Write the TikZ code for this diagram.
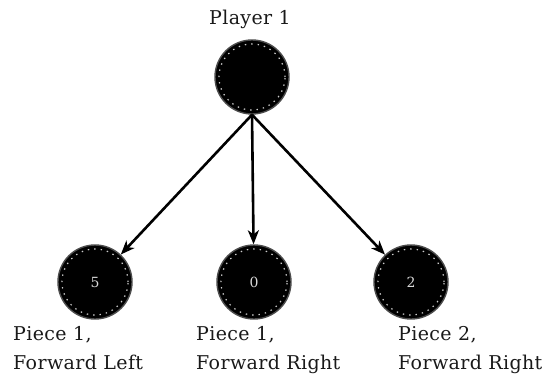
\documentclass[tikz,border=0pt]{standalone}
\usepackage{fontspec}
\setmainfont{DejaVu Serif}[LetterSpace=2]
\usetikzlibrary{arrows.meta}
\tikzset{
  statenode/.style={circle, fill=black, draw=black!70, line width=1.4pt, minimum size=74pt, inner sep=0pt,
    text=white!85!black, font=\fontsize{14}{15}\selectfont,
    path picture={\draw[white!80!black, line width=1.2pt, dash pattern=on 1.4pt off 5pt] (path picture bounding box.center) circle (33pt);}},
  edge/.style={-{Stealth[length=14pt,width=11pt,inset=4pt]}, line width=2.6pt, black},
  lbl/.style={anchor=north west, inner sep=0pt, align=left, font=\fontsize{19}{29}\selectfont, text=black!90},
}
\begin{document}
\begin{tikzpicture}[x=1pt,y=-1pt]
\useasboundingbox (0,0) rectangle (556,379);
\node[statenode] (top) at (252,77) {};
\node[statenode] (b1) at (95,282) {5};
\node[statenode] (b2) at (254,282) {0};
\node[statenode] (b3) at (411,282) {2};
\node[font=\fontsize{19}{22}\selectfont, text=black!90, inner sep=0pt] (p1) at (250,19) {Player 1};
\node[lbl] (l1) at (13,326) {Piece 1,\\Forward Left};
\node[lbl] (l2) at (196,326) {Piece 1,\\Forward Right};
\node[lbl] (l3) at (398,326) {Piece 2,\\Forward Right};
\draw[edge] (top.south) -- (b1);
\draw[edge] (top.south) -- (b2);
\draw[edge] (top.south) -- (b3);
\end{tikzpicture}
\end{document}
